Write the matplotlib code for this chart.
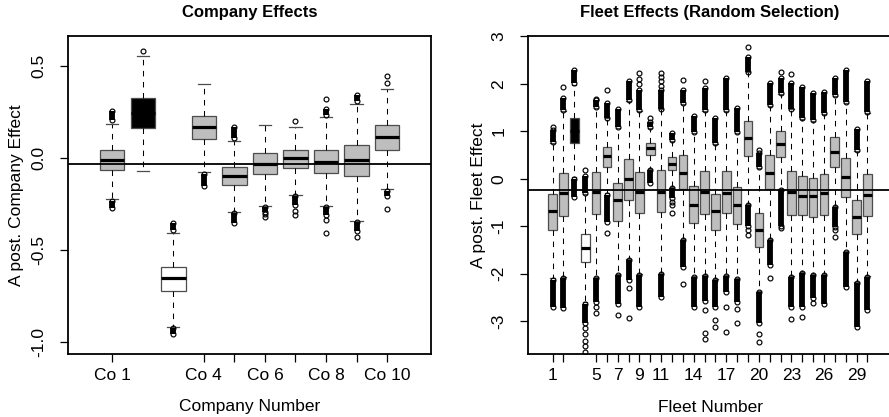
import matplotlib
matplotlib.use("Agg")
import matplotlib.pyplot as plt

plt.rcParams['font.family'] = ['Liberation Sans', 'DejaVu Sans']

# ---------------- company effects ----------------
company_pos = [1, 2, 3, 4, 5, 6, 7, 8, 9, 10]
company_q1 = [-0.068, 0.163, -0.725, 0.102, -0.150, -0.090, -0.058, -0.083, -0.098, 0.040]
company_med = [-0.012, 0.240, -0.655, 0.165, -0.098, -0.033, -0.003, -0.022, -0.014, 0.111]
company_q3 = [0.040, 0.326, -0.595, 0.226, -0.050, 0.024, 0.040, 0.040, 0.067, 0.179]
company_lo = [-0.224, -0.074, -0.917, -0.079, -0.296, -0.260, -0.203, -0.262, -0.342, -0.170]
company_hi = [0.185, 0.550, -0.407, 0.398, 0.092, 0.179, 0.165, 0.219, 0.290, 0.375]
company_fill = ['#BEBEBE', 'black', 'white', '#BEBEBE', '#BEBEBE',
                '#BEBEBE', '#BEBEBE', '#BEBEBE', '#BEBEBE', '#BEBEBE']
# dense runs of outliers (from, to) above / below the whiskers
company_up_band = [(0.205, 0.255), None, (-0.395, -0.355), None, (0.106, 0.168),
                   None, None, (0.230, 0.265), (0.310, 0.340), None]
company_low_band = [(-0.235, -0.272), None, (-0.925, -0.955), (-0.090, -0.155), (-0.300, -0.352),
                    (-0.266, -0.293), (-0.210, -0.255), (-0.266, -0.310), (-0.350, -0.397), (-0.180, -0.210)]
company_single = [[], [0.581], [], [], [], [-0.304, -0.320], [0.198, -0.290, -0.310],
                  [0.317, -0.340, -0.410], [-0.430], [0.407, 0.444, -0.279]]
company_ticks = [1, 4, 5, 6, 7, 8, 9, 10]
company_ticklabels = ['Co 1', 'Co 4', '', 'Co 6', '', 'Co 8', '', 'Co 10']
company_mean = -0.036

# ---------------- fleet effects ----------------
fleet_pos = list(range(1, 31))
fleet_q1 = [-1.07, -0.78, 0.746, -1.76, -0.75, 0.25, -0.885, -0.45, -0.73, 0.50,
            -0.71, 0.18, -0.21, -0.94, -0.74, -1.08, -0.72, -0.955, 0.485, -1.43,
            -0.21, 0.465, -0.77, -0.77, -0.80, -0.77, 0.25, -0.39, -1.17, -0.79]
fleet_med = [-0.675, -0.31, 1.00, -1.47, -0.27, 0.48, -0.45, -0.01, -0.27, 0.64,
             -0.27, 0.32, 0.127, -0.55, -0.27, -0.68, -0.29, -0.55, 0.865, -1.07,
             0.127, 0.725, -0.27, -0.365, -0.365, -0.31, 0.57, 0.04, -0.80, -0.34]
fleet_q3 = [-0.33, 0.127, 1.27, -1.166, 0.15, 0.675, -0.08, 0.41, 0.15, 0.746,
            0.18, 0.46, 0.50, -0.15, 0.16, -0.32, 0.16, -0.17, 1.22, -0.73,
            0.50, 1.00, 0.16, 0.06, 0.02, 0.10, 0.87, 0.44, -0.45, 0.10]
fleet_lo = [-2.10, -2.08, 0.03, -2.60, -2.08, -0.31, -2.01, -1.69, -2.01, 0.20,
            -1.98, -0.18, -1.27, -2.06, -2.03, -2.12, -2.03, -2.10, -0.53, -2.36,
            -1.27, -0.22, -2.06, -1.96, -2.01, -2.01, -0.57, -1.52, -2.18, -2.06]
fleet_hi = [0.75, 1.43, 1.98, -0.32, 1.50, 1.27, 1.08, 1.64, 1.43, 1.08,
            1.46, 0.80, 1.57, 0.97, 1.43, 0.73, 1.43, 0.97, 2.24, 0.23,
            1.53, 1.78, 1.46, 1.25, 1.22, 1.36, 1.74, 1.60, 0.58, 1.39]
fleet_fill = ['#BEBEBE', '#BEBEBE', 'black', 'white'] + ['#BEBEBE'] * 26
fleet_up_band = [(0.78, 1.03), (1.45, 1.70), (2.01, 2.29), (-0.30, 0.05), (1.52, 1.65),
                 (1.29, 1.59), (1.10, 1.47), (1.66, 2.05), (1.45, 1.88), (1.10, 1.20),
                 (1.48, 1.87), (0.82, 0.97), (1.59, 1.87), (0.99, 1.32), (1.45, 1.91),
                 (0.75, 1.27), (1.45, 2.12), (0.99, 1.50), (2.26, 2.57), (0.25, 0.55),
                 (1.55, 2.01), (1.80, 2.12), (1.48, 2.01), (1.27, 1.94), (1.24, 1.80),
                 (1.38, 1.83), (1.76, 2.12), (1.62, 2.29), (0.60, 1.04), (1.41, 2.05)]
fleet_low_band = [(-2.13, -2.71), (-2.10, -2.72), (0.00, -0.38), (-2.63, -3.04), (-2.10, -2.60),
                  (-0.34, -0.91), (-2.03, -2.63), (-1.71, -2.14), (-2.03, -2.70), (0.18, -0.10),
                  (-2.00, -2.49), (-0.20, -0.41), (-1.29, -1.86), (-2.08, -2.70), (-2.05, -2.58),
                  (-2.14, -2.70), (-2.05, -2.38), (-2.12, -2.59), (-0.55, -1.00), (-2.38, -3.05),
                  (-1.29, -1.82), (-0.24, -1.00), (-2.08, -2.70), (-1.98, -2.70), (-2.03, -2.52),
                  (-2.03, -2.63), (-0.59, -1.01), (-1.54, -2.28), (-2.20, -3.12), (-2.08, -2.77)]
fleet_single = [[1.10], [1.93], [], [0.18, -3.15, -3.28, -3.42, -3.52, -3.65], [1.69, -2.70, -2.84],
                [1.87, -1.15], [-2.87], [-2.31, -2.94], [2.00, 2.10, 2.22], [1.27],
                [1.95, 2.05, 2.15, 2.22], [-0.48, -0.55, -0.73], [2.08, -2.22], [], [2.05, -2.77, -3.26, -3.37],
                [-2.98, -3.12], [-2.70, -3.22], [-2.74, -3.05], [2.78, -1.07, -1.19], [0.60, -3.28, -3.44],
                [-2.10], [2.26, -1.04], [2.20, -2.96], [-2.91], [-2.61],
                [], [-1.07, -1.23], [], [], []]
fleet_ticks = [1, 2] + list(range(5, 31))
fleet_ticklabels = ['1', '', '5', '', '7', '', '9', '', '11', '', '', '14', '', '', '17', '', '',
                    '20', '', '', '23', '', '', '26', '', '', '29', '']
fleet_mean = -0.24

W, H = 889, 417
fig = plt.figure(figsize=(W / 100, H / 100), dpi=100)


def rect(x0, x1, y0, y1):
    return [x0 / W, 1 - y1 / H, (x1 - x0) / W, (y1 - y0) / H]


ax1 = fig.add_axes(rect(68.3, 431.0, 35.7, 354.3))
ax2 = fig.add_axes(rect(528.3, 891.7, 35.7, 354.3))

EDGE = '#4d4d4d'
MS = 3.5      # circle size (pt)
BAND_LW = 4.2


def draw_panel(ax, pos, q1, med, q3, lo, hi, fills, up_band, low_band, single):
    stats = [dict(med=m, q1=a, q3=b, whislo=l, whishi=h, fliers=[])
             for a, m, b, l, h in zip(q1, med, q3, lo, hi)]
    bp = ax.bxp(stats, positions=pos, widths=0.8, capwidths=0.4, patch_artist=True,
                showfliers=False,
                boxprops=dict(edgecolor=EDGE, linewidth=0.9),
                medianprops=dict(color='black', linewidth=2.3, solid_capstyle='butt'),
                whiskerprops=dict(color='black', linewidth=0.75, linestyle=(0, (5.3, 5.3))),
                capprops=dict(color=EDGE, linewidth=0.9))
    for patch, fc in zip(bp['boxes'], fills):
        patch.set_facecolor(fc)
    for p, ub, lb, s in zip(pos, up_band, low_band, single):
        for band in (ub, lb):
            if band is None:
                continue
            ax.plot([p, p], list(band), color='black', lw=BAND_LW,
                    solid_capstyle='butt', zorder=4)
            ax.plot([p, p], list(band), 'o', ms=MS, mfc='none', mec='black',
                    mew=0.85, zorder=4)
        if s:
            ax.plot([p] * len(s), s, 'o', ms=MS, mfc='none', mec='black',
                    mew=0.85, zorder=4)


draw_panel(ax1, company_pos, company_q1, company_med, company_q3, company_lo, company_hi,
           company_fill, company_up_band, company_low_band, company_single)
draw_panel(ax2, fleet_pos, fleet_q1, fleet_med, fleet_q3, fleet_lo, fleet_hi,
           fleet_fill, fleet_up_band, fleet_low_band, fleet_single)

ax1.axhline(company_mean, color='black', lw=1.3, zorder=5)
ax2.axhline(fleet_mean, color='black', lw=1.3, zorder=5)

ax1.set_xlim(-0.44, 11.44)
ax1.set_ylim(-1.067, 0.662)
ax2.set_xlim(-1.24, 32.24)
ax2.set_ylim(-3.70, 3.015)

ax1.set_xticks(company_ticks)
ax1.set_xticklabels(company_ticklabels)
ax1.set_yticks([0.5, 0.0, -0.5, -1.0])
ax1.set_yticklabels(['0.5', '0.0', '-0.5', '-1.0'], rotation=90, va='center')
ax2.set_xticks(fleet_ticks)
ax2.set_xticklabels(fleet_ticklabels)
ax2.set_yticks([3, 2, 1, 0, -1, -2, -3])
ax2.set_yticklabels(['3', '2', '1', '0', '-1', '-2', '-3'], rotation=90, va='center')

for ax in (ax1, ax2):
    for sp in ax.spines.values():
        sp.set_linewidth(1.3)
    ax.tick_params(axis='both', direction='out', length=5.8, width=0.9,
                   labelsize=12.5, colors='black')
    ax.tick_params(axis='x', pad=4)
    ax.tick_params(axis='y', pad=10)

fs_lab = 12.5
fig.text(249.7 / W, 1 - 12 / H, 'Company Effects', ha='center', va='center',
         fontsize=12, fontweight='bold')
fig.text(710 / W, 1 - 12 / H, 'Fleet Effects (Random Selection)', ha='center', va='center',
         fontsize=12, fontweight='bold')
fig.text(249.7 / W, 1 - 407 / H, 'Company Number', ha='center', va='center', fontsize=fs_lab)
fig.text(710 / W, 1 - 407 / H, 'Fleet Number', ha='center', va='center', fontsize=fs_lab)
fig.text(17 / W, 1 - 195 / H, 'A post. Company Effect', ha='center', va='center',
         rotation=90, fontsize=fs_lab)
fig.text(478 / W, 1 - 195 / H, 'A post. Fleet Effect', ha='center', va='center',
         rotation=90, fontsize=fs_lab)

fig.savefig('out.png', dpi=100)
